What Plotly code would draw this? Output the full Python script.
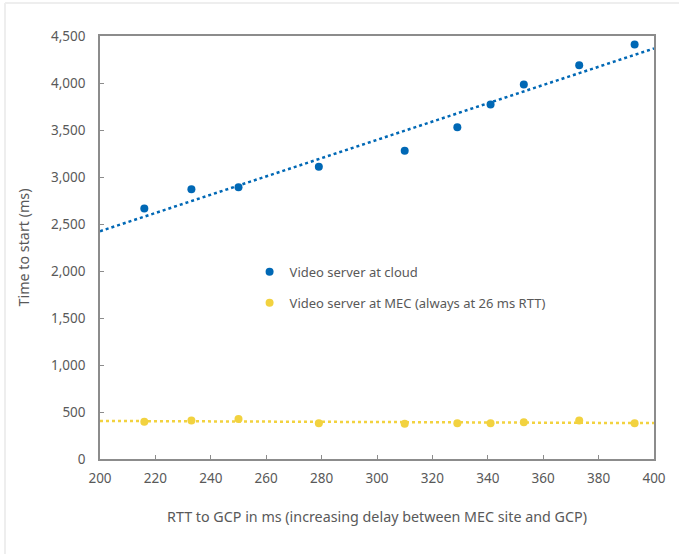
import numpy as np
import plotly.graph_objects as go

# RTT to GCP (ms) for each test run
rtt_ms = [216, 233, 250, 279, 310, 329, 341, 353, 373, 393]

# Time to start (ms)
cloud_ms = [2665, 2870, 2890, 3110, 3280, 3530, 3770, 3985, 4190, 4410]
mec_ms = [395, 410, 425, 380, 375, 380, 380, 390, 410, 380]

x_ticks = [200, 220, 240, 260, 280, 300, 320, 340, 360, 380, 400]
y_ticks = [0, 500, 1000, 1500, 2000, 2500, 3000, 3500, 4000, 4500]

series_names = ["Video server at cloud", "Video server at MEC (always at 26 ms RTT)"]
colors = ["#0068B5", "#F2D23F"]

FONT = "Noto Sans, Open Sans, sans-serif"
TEXT = "#595959"

fig = go.Figure()

x_range = np.array([x_ticks[0], x_ticks[-1]], dtype=float)
for i, (name, ys, col) in enumerate(zip(series_names, [cloud_ms, mec_ms], colors)):
    # linear trendline fitted to the measurements
    slope, intercept = np.polyfit(rtt_ms, ys, 1)
    fig.add_trace(go.Scatter(
        x=x_range, y=slope * x_range + intercept, mode="lines",
        line=dict(color=col, width=2.5, dash="dot"),
        showlegend=False, hoverinfo="skip",
    ))
for i, (name, ys, col) in enumerate(zip(series_names, [cloud_ms, mec_ms], colors)):
    fig.add_trace(go.Scatter(
        x=rtt_ms, y=ys, mode="markers", name=name,
        marker=dict(color=col, size=8),
        legendgroup=f"g{i}",
    ))

axis_common = dict(
    showgrid=False, zeroline=False,
    showline=True, linecolor="#8c8c8c", linewidth=1.5, mirror=True,
    ticks="inside", ticklen=4, tickcolor="#8c8c8c", tickwidth=1,
    tickfont=dict(family=FONT, size=13.5, color=TEXT),
)

fig.update_xaxes(
    range=[200, 400], tickvals=x_ticks, ticklabelstandoff=6,
    title=dict(text="RTT to GCP in ms (increasing delay between MEC site and GCP)",
               font=dict(family=FONT, size=14.3, color=TEXT), standoff=26),
    **axis_common,
)
fig.update_yaxes(
    range=[0, 4500], tickvals=y_ticks, tickformat=",d", ticklabelstandoff=10,
    title=dict(text="Time to start (ms)",
               font=dict(family=FONT, size=14.3, color=TEXT), standoff=18),
    **axis_common,
)

fig.update_layout(
    width=679, height=554,
    margin=dict(l=100, r=25, t=36, b=95),
    paper_bgcolor="white", plot_bgcolor="white",
    font=dict(family=FONT, size=13, color=TEXT),
    legend=dict(
        x=0.27, y=0.478, xanchor="left", yanchor="top",
        bgcolor="rgba(0,0,0,0)", traceorder="grouped", tracegroupgap=11,
        font=dict(family=FONT, size=13, color=TEXT),
    ),
    shapes=[
        dict(type="line", xref="paper", yref="paper",
             x0=-95 / 554, x1=679 / 554, y0=(459 - 3) / 423, y1=(459 - 3) / 423,
             line=dict(color="#eeeeee", width=2)),
        dict(type="line", xref="paper", yref="paper",
             x0=-95 / 554, x1=-95 / 554, y0=(459 - 3) / 423, y1=-95 / 423,
             line=dict(color="#eeeeee", width=2)),
    ],
)

fig.write_html("out.html")
